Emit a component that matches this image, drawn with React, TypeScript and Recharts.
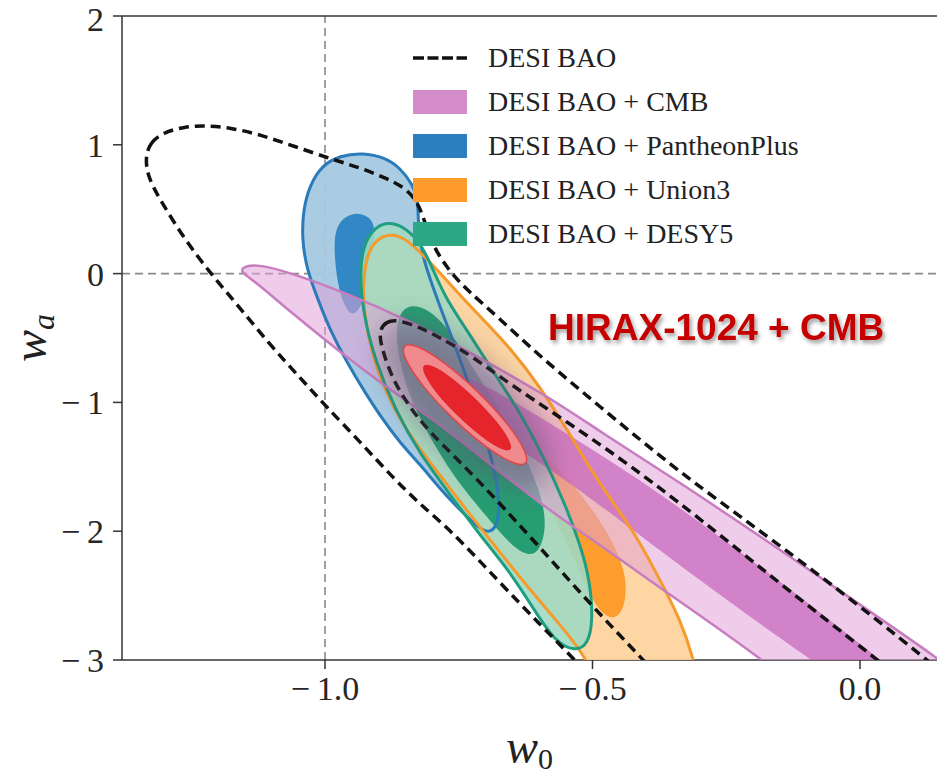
import React from "react";
import {
  Label,
  Legend,
  ReferenceDot,
  ReferenceLine,
  Scatter,
  ScatterChart,
  XAxis,
  YAxis,
} from "recharts";

const SERIF = '"Liberation Serif", "Times New Roman", serif';
const SANS = '"Liberation Sans", Arial, sans-serif';

const X_DOMAIN: [number, number] = [-1.3794, 0.1439];
const Y_DOMAIN: [number, number] = [-3, 2];
const X_TICKS = [-1, -0.5, 0];
const Y_TICKS = [-3, -2, -1, 0, 1, 2];

const LEGEND_NAMES = [
  "DESI BAO",
  "DESI BAO + CMB",
  "DESI BAO + PantheonPlus",
  "DESI BAO + Union3",
  "DESI BAO + DESY5",
];
const LEGEND_COLORS = ["dashed", "#d48bca", "#2b7fbe", "#fe9b2b", "#2ca884"];

const HIRAX_LABEL = "HIRAX-1024 + CMB";
const HIRAX_POS = { x: -0.583, y: -0.512 };

// contour outlines, as [w0, wa]
const desiOuter = [
  [-1.336, 0.901], [-1.327, 1.017], [-1.303, 1.095], [-1.262, 1.141], [-1.224, 1.149],
  [-1.178, 1.134], [-1.121, 1.079], [-1.056, 0.986], [-0.985, 0.885], [-0.935, 0.823],
  [-0.888, 0.745], [-0.85, 0.668], [-0.826, 0.551], [-0.813, 0.396], [-0.798, 0.21],
  [-0.766, 0.008], [-0.729, -0.148], [-0.682, -0.318], [-0.598, -0.644], [-0.473, -1.079],
  [-0.35, -1.498], [-0.262, -1.77], [-0.056, -2.399], [0.125, -2.997], [0.243, -3.401],
  [0.15, -3.773], [-0.112, -3.851], [-0.393, -3.696], [-0.467, -3.307], [-0.533, -2.997],
  [-0.598, -2.725], [-0.673, -2.399], [-0.766, -1.988], [-0.822, -1.793], [-0.873, -1.584],
  [-0.935, -1.304], [-0.996, -1.04], [-1.047, -0.807], [-1.103, -0.551], [-1.172, -0.202],
  [-1.215, 0.008], [-1.262, 0.264], [-1.305, 0.551], [-1.331, 0.745],
];

const desiInner = [
  [-0.897, -0.435], [-0.886, -0.373], [-0.864, -0.357], [-0.822, -0.419], [-0.785, -0.497],
  [-0.729, -0.629], [-0.654, -0.862], [-0.505, -1.266], [-0.35, -1.731], [-0.15, -2.407],
  [0.032, -2.997], [0.15, -3.385], [0.037, -3.773], [-0.187, -3.773], [-0.318, -3.385],
  [-0.406, -2.997], [-0.505, -2.562], [-0.598, -2.127], [-0.692, -1.7], [-0.748, -1.46],
  [-0.809, -1.211], [-0.845, -1.017], [-0.873, -0.823], [-0.89, -0.629], [-0.897, -0.512],
];

const cmbOuter = [
  [-1.155, 0.05], [-1.128, 0.075], [-1.065, 0.01], [-0.948, -0.172], [-0.847, -0.36],
  [-0.748, -0.567], [-0.579, -0.963], [-0.486, -1.227], [-0.336, -1.623], [-0.15, -2.143],
  [-0.019, -2.516], [0.144, -2.981], [0.262, -3.346], [0.299, -3.696], [0.168, -3.773],
  [-0.037, -3.463], [-0.183, -2.997], [-0.299, -2.655], [-0.393, -2.384], [-0.486, -2.104],
  [-0.598, -1.793], [-0.766, -1.227], [-0.847, -0.994], [-0.948, -0.69], [-1.071, -0.275],
  [-1.128, -0.07], [-1.157, 0.01],
];

const cmbInner = [
  [-0.813, -0.668], [-0.729, -0.807], [-0.636, -1.017], [-0.542, -1.258], [-0.406, -1.615],
  [-0.262, -2.042], [-0.112, -2.508], [0.037, -2.997], [0.168, -3.424], [0.131, -3.696],
  [0.019, -3.307], [-0.093, -2.997], [-0.243, -2.554], [-0.393, -2.089], [-0.542, -1.623],
  [-0.636, -1.366], [-0.729, -1.095], [-0.794, -0.862], [-0.819, -0.73],
];

const pantheonOuter = [
  [-0.929, 0.939], [-0.888, 0.901], [-0.86, 0.823], [-0.836, 0.691], [-0.826, 0.575],
  [-0.826, 0.38], [-0.819, 0.148], [-0.8, -0.085], [-0.776, -0.357], [-0.742, -0.722],
  [-0.71, -1.134], [-0.686, -1.467], [-0.673, -1.755], [-0.677, -1.949], [-0.692, -2.019],
  [-0.714, -1.972], [-0.748, -1.832], [-0.779, -1.7], [-0.822, -1.483], [-0.86, -1.312],
  [-0.892, -1.134], [-0.925, -0.924], [-0.959, -0.691], [-0.991, -0.435], [-1.013, -0.202],
  [-1.034, 0.031], [-1.043, 0.264], [-1.041, 0.497], [-1.028, 0.691], [-1.006, 0.839],
  [-0.972, 0.916],
];

const pantheonInner = [
  [-0.944, 0.474], [-0.92, 0.45], [-0.905, 0.373], [-0.912, 0.186], [-0.92, -0.047],
  [-0.93, -0.241], [-0.948, -0.342], [-0.966, -0.241], [-0.978, -0.047], [-0.983, 0.186],
  [-0.981, 0.342], [-0.966, 0.435],
];

const union3Outer = [
  [-0.879, 0.311], [-0.85, 0.28], [-0.804, 0.093], [-0.757, -0.124], [-0.71, -0.334],
  [-0.654, -0.575], [-0.598, -0.877], [-0.542, -1.25], [-0.492, -1.599], [-0.449, -1.848],
  [-0.411, -2.089], [-0.374, -2.376], [-0.336, -2.686], [-0.312, -2.974], [-0.295, -3.307],
  [-0.318, -3.618], [-0.411, -3.657], [-0.486, -3.307], [-0.505, -3.012], [-0.561, -2.725],
  [-0.617, -2.453], [-0.673, -2.166], [-0.729, -1.871], [-0.779, -1.599], [-0.822, -1.366],
  [-0.86, -1.134], [-0.888, -0.901], [-0.912, -0.629], [-0.927, -0.318], [-0.929, -0.047],
  [-0.921, 0.148], [-0.905, 0.264],
];

const union3Inner = [
  [-0.617, -1.289], [-0.561, -1.522], [-0.505, -1.793], [-0.458, -2.104], [-0.434, -2.376],
  [-0.441, -2.624], [-0.464, -2.694], [-0.49, -2.609], [-0.514, -2.415], [-0.542, -2.143],
  [-0.579, -1.832], [-0.607, -1.561], [-0.626, -1.366],
];

const desy5Outer = [
  [-0.884, 0.404], [-0.856, 0.373], [-0.826, 0.264], [-0.804, 0.093], [-0.776, -0.186],
  [-0.729, -0.474], [-0.679, -0.807], [-0.636, -1.071], [-0.589, -1.444], [-0.551, -1.793],
  [-0.523, -2.104], [-0.505, -2.376], [-0.499, -2.686], [-0.508, -2.88], [-0.533, -2.935],
  [-0.57, -2.857], [-0.607, -2.624], [-0.654, -2.314], [-0.71, -2.034], [-0.766, -1.716],
  [-0.822, -1.405], [-0.869, -1.056], [-0.907, -0.668], [-0.929, -0.303], [-0.935, 0.008],
  [-0.929, 0.202], [-0.912, 0.342],
];

const desy5Inner = [
  [-0.836, -0.241], [-0.807, -0.28], [-0.776, -0.396], [-0.744, -0.59], [-0.71, -0.823],
  [-0.673, -1.056], [-0.636, -1.328], [-0.598, -1.677], [-0.585, -1.949], [-0.598, -2.158],
  [-0.621, -2.197], [-0.654, -2.104], [-0.701, -1.871], [-0.748, -1.638], [-0.785, -1.405],
  [-0.822, -1.134], [-0.85, -0.862], [-0.865, -0.59], [-0.867, -0.396], [-0.856, -0.28],
];

const hiraxHalo = [
  [-0.584, -1.638], [-0.636, -1.689], [-0.715, -1.56], [-0.801, -1.285], [-0.87, -0.939],
  [-0.903, -0.613], [-0.893, -0.396], [-0.841, -0.346], [-0.761, -0.474], [-0.676, -0.749],
  [-0.607, -1.096], [-0.573, -1.422],
];

const hiraxOuter = [
  [-0.62, -1.492], [-0.648, -1.481], [-0.701, -1.346], [-0.763, -1.123], [-0.819, -0.871],
  [-0.853, -0.658], [-0.856, -0.542], [-0.828, -0.553], [-0.776, -0.688], [-0.714, -0.912],
  [-0.658, -1.163], [-0.624, -1.376],
];

const hiraxInner = [
  [-0.65, -1.38], [-0.67, -1.372], [-0.707, -1.273], [-0.751, -1.113], [-0.792, -0.933],
  [-0.816, -0.782], [-0.819, -0.7], [-0.799, -0.709], [-0.762, -0.807], [-0.718, -0.968],
  [-0.678, -1.148], [-0.653, -1.299],
];

const toPts = (a: number[][]) => a.map(([x, y]) => ({ x, y }));
const Hidden = () => <g />;

type Style = {
  fill?: string;
  fillOpacity?: number;
  stroke?: string;
  strokeWidth?: number;
  dash?: string;
  filter?: string;
};

function contour(key: string, pts: number[][], s: Style) {
  return (
    <Scatter
      key={key}
      name={key}
      data={toPts(pts)}
      fill="none"
      shape={Hidden}
      line={{
        fill: s.fill ?? "none",
        fillOpacity: s.fillOpacity ?? 1,
        stroke: s.stroke ?? "none",
        strokeWidth: s.strokeWidth ?? 0,
        strokeDasharray: s.dash,
        strokeLinejoin: "round",
        filter: s.filter,
      }}
      lineType="joint"
      lineJointType="basisClosed"
      legendType="none"
      isAnimationActive={false}
    />
  );
}

const fmtTick = (v: number, digits: number) =>
  v < 0 ? `\u2212\u2009${Math.abs(v).toFixed(digits)}` : v.toFixed(digits);

function XTitle(props: any) {
  const vb = props.viewBox || { x: 122, y: 660, width: 815, height: 60 };
  return (
    <text x={vb.x + vb.width / 2} y={vb.y + 103} textAnchor="middle" fill="#222" fontFamily={SERIF}>
      <tspan fontStyle="italic" fontSize={48}>w</tspan>
      <tspan fontSize={30} dy={6}>0</tspan>
    </text>
  );
}

function YTitle(props: any) {
  const vb = props.viewBox || { x: 32, y: 16, width: 90, height: 644 };
  const cx = vb.x + 14;
  const cy = vb.y + vb.height / 2;
  return (
    <text
      x={cx}
      y={cy}
      textAnchor="middle"
      fill="#222"
      fontFamily={SERIF}
      transform={`rotate(-90, ${cx}, ${cy})`}
    >
      <tspan fontStyle="italic" fontSize={48}>w</tspan>
      <tspan fontStyle="italic" fontSize={32} dy={8}>a</tspan>
    </text>
  );
}

function HiraxText(props: any) {
  return (
    <text
      x={props.cx}
      y={props.cy}
      fill="#c40000"
      fontFamily={SANS}
      fontWeight="bold"
      fontSize={37}
      filter="url(#txtShadow)"
    >
      {HIRAX_LABEL}
    </text>
  );
}

function LegendBox() {
  return (
    <div style={{ fontFamily: SERIF, fontSize: 28, color: "#222" }}>
      {LEGEND_NAMES.map((name, i) => (
        <div key={name} style={{ display: "flex", alignItems: "center", height: 44 }}>
          {LEGEND_COLORS[i] === "dashed" ? (
            <svg width={54} height={24} style={{ marginRight: 21 }}>
              <line x1={0} y1={12} x2={54} y2={12} stroke="#111" strokeWidth={3.5} strokeDasharray="11 3.5" />
            </svg>
          ) : (
            <span style={{ width: 54, height: 24, marginRight: 21, background: LEGEND_COLORS[i] }} />
          )}
          <span style={{ whiteSpace: "nowrap" }}>{name}</span>
        </div>
      ))}
    </div>
  );
}

export default function App() {
  return (
    <div style={{ position: "absolute", left: 0, top: 0, width: 937, height: 775, background: "#fff" }}>
      <ScatterChart width={937} height={775} margin={{ top: 16, right: 0, bottom: 55, left: 32 }}>
        <defs>
          <filter id="haloBlur" x="-60%" y="-60%" width="220%" height="220%">
            <feGaussianBlur stdDeviation="14" />
          </filter>
          <filter id="txtShadow" x="-10%" y="-30%" width="120%" height="160%">
            <feDropShadow dx="2" dy="3" stdDeviation="2" floodColor="#000" floodOpacity="0.4" />
          </filter>
        </defs>
        <XAxis
          type="number"
          dataKey="x"
          domain={X_DOMAIN}
          ticks={X_TICKS}
          allowDataOverflow
          height={60}
          tickSize={9}
          tickMargin={7}
          tickFormatter={(v: number) => fmtTick(v, 1)}
          tick={{ fontSize: 34, fill: "#262626", fontFamily: SERIF }}
          axisLine={{ stroke: "#333", strokeWidth: 1.5 }}
          tickLine={{ stroke: "#333", strokeWidth: 1.5 }}
        >
          <Label content={<XTitle />} />
        </XAxis>
        <YAxis
          type="number"
          dataKey="y"
          domain={Y_DOMAIN}
          ticks={Y_TICKS}
          allowDataOverflow
          width={90}
          tickSize={9}
          tickMargin={9}
          tickFormatter={(v: number) => fmtTick(v, 0)}
          tick={{ fontSize: 34, fill: "#262626", fontFamily: SERIF }}
          axisLine={{ stroke: "#333", strokeWidth: 1.5 }}
          tickLine={{ stroke: "#333", strokeWidth: 1.5 }}
        >
          <Label content={<YTitle />} />
        </YAxis>

        {contour("pantheon-95", pantheonOuter, { fill: "#a4c9e2", fillOpacity: 0.95 })}
        {contour("pantheon-68", pantheonInner, { fill: "#2a84c2", fillOpacity: 0.95 })}
        {contour("union3-95", union3Outer, { fill: "#fdd29a", fillOpacity: 0.9 })}
        {contour("union3-68", union3Inner, { fill: "#fd9a28", fillOpacity: 0.95 })}
        {contour("desy5-95", desy5Outer, { fill: "#9fd9c3", fillOpacity: 0.88 })}
        {contour("desy5-68", desy5Inner, { fill: "#1f9a6e", fillOpacity: 0.95 })}
        {contour("cmb-95", cmbOuter, { fill: "#e2a2d8", fillOpacity: 0.55 })}
        {contour("cmb-68", cmbInner, { fill: "#c462ba", fillOpacity: 0.7 })}

        {contour("pantheon-line", pantheonOuter, { stroke: "#2b7bba", strokeWidth: 3 })}
        {contour("union3-line", union3Outer, { stroke: "#f59a2c", strokeWidth: 3 })}
        {contour("desy5-line", desy5Outer, { stroke: "#1f9e80", strokeWidth: 3 })}
        {contour("cmb-line", cmbOuter, { stroke: "#c77dbf", strokeWidth: 2.5 })}

        {contour("desi-95", desiOuter, { stroke: "#111", strokeWidth: 3.5, dash: "10 6" })}
        {contour("desi-68", desiInner, { stroke: "#111", strokeWidth: 3.5, dash: "10 6" })}

        {contour("hirax-halo", hiraxHalo, { fill: "#5d4a6b", fillOpacity: 0.45, filter: "url(#haloBlur)" })}
        {contour("hirax-95", hiraxOuter, { fill: "#f08a8c", stroke: "#e0464a", strokeWidth: 1.5 })}
        {contour("hirax-68", hiraxInner, { fill: "#e5252b" })}

        <ReferenceLine x={-1} stroke="#8a8a8a" strokeWidth={1.6} strokeDasharray="8 5" />
        <ReferenceLine y={0} stroke="#8a8a8a" strokeWidth={1.6} strokeDasharray="8 5" />
        <ReferenceLine y={2} stroke="#333" strokeWidth={1.5} />

        <ReferenceDot x={HIRAX_POS.x} y={HIRAX_POS.y} r={0} ifOverflow="visible" shape={HiraxText} />

        <Legend
          layout="vertical"
          align="center"
          verticalAlign="middle"
          content={<LegendBox />}
          wrapperStyle={{ left: 413, top: 36, width: 470 }}
        />
      </ScatterChart>
    </div>
  );
}
